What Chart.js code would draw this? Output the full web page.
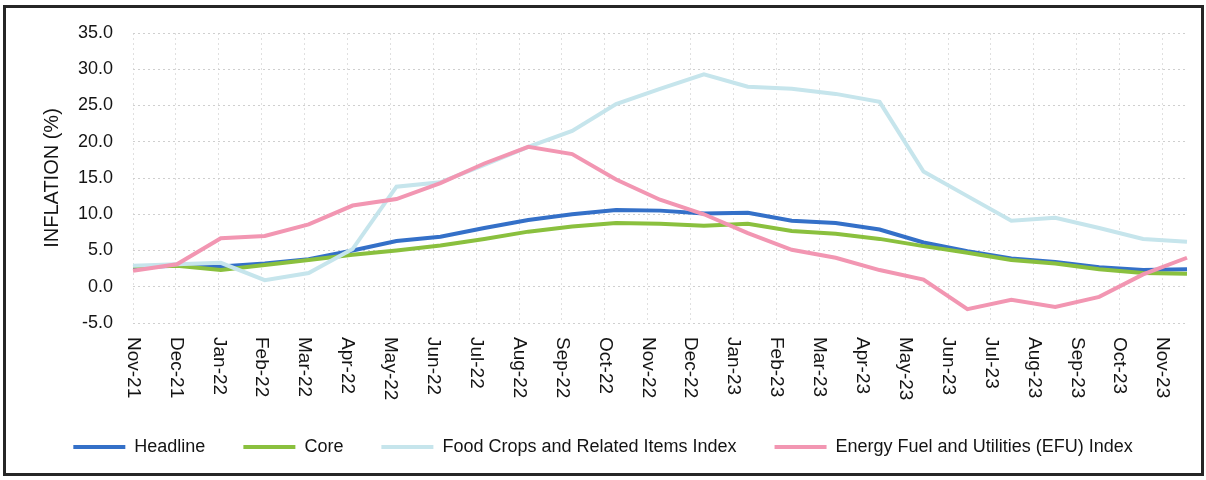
<!DOCTYPE html>
<html>
<head>
<meta charset="utf-8">
<script src="https://cdn.jsdelivr.net/npm/chart.js@4.4.1/dist/chart.umd.min.js"></script>
<style>
  html, body { margin: 0; padding: 0; background: #fff; }
  #wrap { width: 1206px; height: 480px; position: relative; }
</style>
</head>
<body>
<div id="wrap"><canvas id="myChart"></canvas></div>
<script>
const FONT = "'Liberation Sans', Arial, sans-serif";

const months = ["Nov-21", "Dec-21", "Jan-22", "Feb-22", "Mar-22", "Apr-22", "May-22", "Jun-22", "Jul-22",
  "Aug-22", "Sep-22", "Oct-22", "Nov-22", "Dec-22", "Jan-23", "Feb-23", "Mar-23", "Apr-23", "May-23",
  "Jun-23", "Jul-23", "Aug-23", "Sep-23", "Oct-23", "Nov-23"];

const headline = [2.7, 2.9, 2.8, 3.2, 3.8, 5.0, 6.3, 6.9, 8.1, 9.2, 10.0, 10.6, 10.5, 10.1, 10.2,
  9.1, 8.8, 7.9, 6.1, 4.9, 3.9, 3.4, 2.7, 2.3, 2.4];
const core = [2.8, 2.9, 2.3, 3.0, 3.7, 4.4, 5.0, 5.7, 6.6, 7.6, 8.3, 8.8, 8.7, 8.4, 8.7,
  7.7, 7.3, 6.6, 5.6, 4.7, 3.7, 3.2, 2.4, 1.9, 1.8];
const foodCrops = [2.9, 3.1, 3.3, 0.9, 1.9, 5.2, 13.8, 14.4, 16.8, 19.3, 21.5, 25.2, 27.3, 29.3, 27.6,
  27.3, 26.6, 25.5, 15.9, 12.5, 9.1, 9.5, 8.1, 6.6, 6.2];
const efu = [2.2, 3.1, 6.7, 7.0, 8.6, 11.2, 12.1, 14.3, 17.0, 19.3, 18.3, 14.8, 12.0, 10.0, 7.4,
  5.1, 4.0, 2.3, 1.0, -3.1, -1.8, -2.8, -1.4, 1.7, 4.0];

const yMin = -5;
const yMax = 35;
const yStep = 5;

// month labels sit on their own axis, slightly narrower than the data run
const labelAxisMax = 24.57;

const extras = {
  id: "extras",
  beforeDraw(chart) {
    const c = chart.ctx;
    c.save();
    c.fillStyle = "#fff";
    c.fillRect(0, 0, chart.width, chart.height);
    c.restore();
  },
  afterDraw(chart) {
    const c = chart.ctx;
    const scale = chart.scales.xl;
    c.save();
    c.fillStyle = "#141414";
    c.font = "19px " + FONT;
    c.textAlign = "left";
    c.textBaseline = "middle";
    months.forEach((m, i) => {
      c.save();
      c.translate(scale.getPixelForValue(i), chart.chartArea.bottom + 14);
      c.rotate(Math.PI / 2);
      c.fillText(m, 0, 0);
      c.restore();
    });
    c.strokeStyle = "#262626";
    c.lineWidth = 3;
    c.strokeRect(4.5, 6.5, 1198, 468);
    c.restore();
  }
};

const ctx = document.getElementById("myChart");

new Chart(ctx, {
  type: "line",
  data: {
    labels: months,
    datasets: [
      {label: "Headline", data: headline, borderColor: "#3470c8", backgroundColor: "#3470c8", borderWidth: 4, order: 3},
      {label: "Core", data: core, borderColor: "#8ac03e", backgroundColor: "#8ac03e", borderWidth: 4, order: 2},
      {label: "Food Crops and Related Items Index", data: foodCrops, borderColor: "#c6e5ec", backgroundColor: "#c6e5ec", borderWidth: 4, order: 1},
      {label: "Energy Fuel and Utilities (EFU) Index", data: efu, borderColor: "#f296b2", backgroundColor: "#f296b2", borderWidth: 4, order: 0},
    ],
  },
  options: {
    responsive: true,
    maintainAspectRatio: false,
    animation: false,
    devicePixelRatio: 1,
    layout: {padding: {left: 19, right: 19, top: 33, bottom: 14}},
    elements: {
      line: {tension: 0},
      point: {radius: 0},
    },
    scales: {
      x: {display: false},
      xl: {
        type: "linear",
        position: "bottom",
        min: 0,
        max: labelAxisMax,
        ticks: {stepSize: 1, includeBounds: false, display: false},
        grid: {color: "#e0e0e0", lineWidth: 1, drawTicks: false},
        border: {display: false, dash: [2, 3]},
        afterFit(s) { s.height = 77; },
      },
      y: {
        min: yMin,
        max: yMax,
        ticks: {
          stepSize: yStep,
          padding: 20,
          color: "#141414",
          font: {size: 18, family: FONT},
          callback: v => v.toFixed(1),
        },
        grid: {color: "#cfcfcf", lineWidth: 1, drawTicks: false},
        border: {display: false, dash: [2, 3]},
        title: {
          display: true,
          text: "INFLATION (%)",
          color: "#141414",
          font: {size: 20, family: FONT},
          padding: {top: 21, bottom: 0},
        },
        afterFit(s) { s.width = 114; },
      },
    },
    plugins: {
      legend: {
        position: "bottom",
        labels: {
          usePointStyle: true,
          pointStyle: "line",
          pointStyleWidth: 52,
          padding: 38,
          color: "#141414",
          font: {size: 18, family: FONT},
          sort: (a, b) => a.datasetIndex - b.datasetIndex,
        },
      },
      tooltip: {enabled: false},
    },
  },
  plugins: [extras],
});
</script>
</body>
</html>
